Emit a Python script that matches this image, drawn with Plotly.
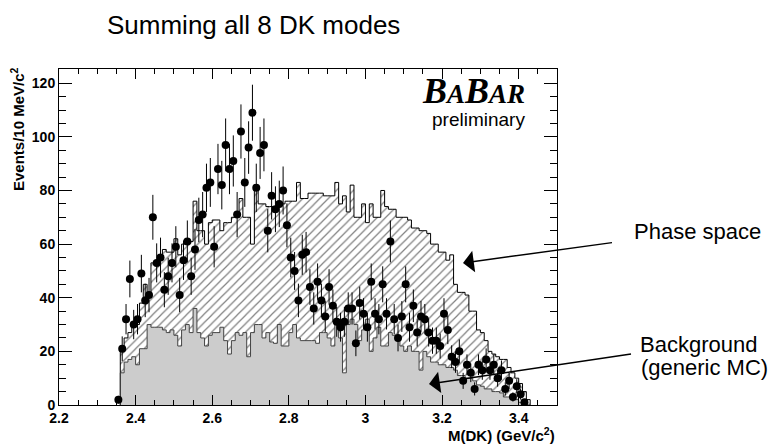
import numpy as np
import plotly.graph_objects as go

# ---------------- data ----------------
bin_width = 0.01
hist_start = 2.36     # first MC bin lower edge
data_start = 2.35     # first data bin lower edge

# stacked MC total (background + phase space), 10 MeV bins from 2.36
total_mc = [22, 25, 27, 29, 30, 38, 45, 42, 53, 52,
            54, 58, 57, 57, 62, 56, 60, 60, 61, 76,
            65, 65, 60, 68, 69, 69, 65, 68, 68, 70,
            70, 77, 70, 70, 60, 80, 75, 75, 74, 74,
            73, 75, 75, 76, 76, 76, 83, 77, 77, 79,
            79, 79, 79, 78, 78, 78, 83, 75, 78, 72,
            82, 70, 70, 75, 68, 75, 70, 70, 80, 74,
            73, 73, 70, 70, 70, 69, 66, 66, 65, 65,
            64, 60, 60, 57, 57, 54, 56, 45, 42, 42,
            41, 35, 35, 28, 27, 24, 20, 19, 18, 17,
            17, 14, 12, 10, 8, 5, 2]

# generic MC background, same binning
background = [12, 16, 17, 18, 15, 21, 21, 30, 29, 29,
              29, 28, 27, 28, 26, 22, 28, 30, 27, 36,
              27, 25, 22, 26, 27, 27, 29, 24, 19, 24,
              27, 26, 27, 18, 27, 30, 30, 25, 27, 23.5,
              23, 30, 22, 22, 27, 30, 25, 24, 24, 24,
              24, 23, 27, 27, 25, 22, 32, 25, 12, 30,
              32, 30, 24, 28, 32, 20, 25, 29, 22, 22,
              27, 26, 24, 22, 20, 22, 20, 20, 13, 20,
              18, 16, 16, 15, 15, 14, 14, 13, 11, 11,
              10, 10, 9, 7.5, 7, 6, 6, 5, 5, 4.5,
              3, 3, 2, 2, 1, 1, 0]

# data counts, 10 MeV bins from 2.35
data_counts = [2, 21, 32, 47, 30, 32, 49, 39, 41, 70,
               53, 55, 43, 48, 53, 59, 41, 54, 61, 48,
               58, 69, 71, 81, 83, 59, 88, 82, 97, 88,
               91, 71, 102, 83, 96, 109, 81, 94, 97, 65,
               78, 73, 75, 80, 67, 55, 50, 39, 56, 57,
               44, 36, 46, 39, 33, 44, 37, 31, 29, 31,
               36, 36, 23, 38, 34, 29, 46, 34, 32, 45,
               34, 61, 32, 25, 33, 45, 29, 37, 27, 33,
               32, 27, 24, 24, 22, 34, 28, 18, 16, 20,
               9, 15, 12, 6, 15, 13, 17, 13, 15, 10,
               13, 6, 9, 3, 7, 4, 1]

x_tickvals = [2.2, 2.4, 2.6, 2.8, 3.0, 3.2, 3.4]
x_ticktext = ["2.2", "2.4", "2.6", "2.8", "3", "3.2", "3.4"]
y_tickvals = [0, 20, 40, 60, 80, 100, 120]
y_ticktext = ["0", "20", "40", "60", "80", "100", "120"]

# ---------------- derived ----------------
n_mc = len(total_mc)
mc_edges = hist_start + bin_width * np.arange(n_mc + 1)
mc_centers = mc_edges[:-1] + bin_width / 2
data_centers = data_start + bin_width * (np.arange(len(data_counts)) + 0.5)
data_err = np.sqrt(np.array(data_counts, dtype=float))


def step_outline(edges, vals):
    xs = [edges[0]] + list(edges[:-1]) + [edges[-1], edges[-1]]
    ys = [0] + list(vals) + [vals[-1], 0]
    return xs, ys


fig = go.Figure()

# hatched (phase space on top of background)
fig.add_trace(go.Bar(
    x=mc_centers, y=total_mc, width=bin_width,
    marker=dict(color="white",
                pattern=dict(shape="/", fgcolor="black", bgcolor="white",
                             size=6, solidity=0.2),
                line=dict(width=0)),
    hoverinfo="skip"))

# gray background
fig.add_trace(go.Bar(
    x=mc_centers, y=background, width=bin_width,
    marker=dict(color="#cccccc", line=dict(width=0)),
    hoverinfo="skip"))

xs, ys = step_outline(mc_edges, total_mc)
fig.add_trace(go.Scatter(x=xs, y=ys, mode="lines", line_shape="hv",
                         line=dict(color="black", width=1), hoverinfo="skip"))
xs, ys = step_outline(mc_edges, background)
fig.add_trace(go.Scatter(x=xs, y=ys, mode="lines", line_shape="hv",
                         line=dict(color="#444444", width=1), hoverinfo="skip"))

# data points
fig.add_trace(go.Scatter(
    x=data_centers, y=data_counts, mode="markers",
    marker=dict(color="black", size=8, symbol="circle"),
    error_y=dict(type="data", array=data_err, color="black",
                 thickness=1, width=0),
    hoverinfo="skip"))

W, H = 778, 447
L, R, T, B = 59, 557, 69, 405


def px(p):
    return (p - L) / (R - L)


def py(p):
    return (B - p) / (B - T)


font_main = "Liberation Sans, Arial, sans-serif"

fig.update_layout(
    width=W, height=H,
    margin=dict(l=L, r=W - R, t=T, b=H - B, pad=0),
    paper_bgcolor="white", plot_bgcolor="white",
    showlegend=False, barmode="overlay", bargap=0,
    xaxis=dict(range=[2.2, 3.5], tickvals=x_tickvals, ticktext=x_ticktext,
               ticks="inside", ticklen=10, tickwidth=1, tickcolor="black",
               showline=True, linecolor="black", linewidth=1, mirror="ticks",
               showgrid=False, zeroline=False,
               minor=dict(tick0=2.2, dtick=0.05, ticks="inside", ticklen=5,
                          tickwidth=1, tickcolor="black", showgrid=False),
               tickfont=dict(family=font_main, size=14, color="black",
                             weight="bold")),
    yaxis=dict(range=[0, 125.3], tickvals=y_tickvals, ticktext=y_ticktext,
               ticks="inside", ticklen=13, tickwidth=1, tickcolor="black",
               showline=True, linecolor="black", linewidth=1, mirror="ticks",
               showgrid=False, zeroline=False,
               minor=dict(tick0=0, dtick=5, ticks="inside", ticklen=7,
                          tickwidth=1, tickcolor="black", showgrid=False),
               tickfont=dict(family=font_main, size=14, color="black",
                             weight="bold")),
)

ann = []
# title
ann.append(dict(text="Summing all 8 DK modes", xref="paper", yref="paper",
                x=px(253), y=py(25), xanchor="center", yanchor="middle",
                showarrow=False,
                font=dict(family=font_main, size=26, color="black")))
# axis titles
ann.append(dict(text="<b>M(DK) (GeV/c<sup>2</sup>)</b>", xref="paper",
                yref="paper", x=px(557), y=py(435), xanchor="right",
                yanchor="middle", showarrow=False,
                font=dict(family=font_main, size=15, color="black")))
ann.append(dict(text="<b>Events/10 MeV/c<sup>2</sup></b>", xref="paper",
                yref="paper", x=px(17), y=py(65), xanchor="center",
                yanchor="top", textangle=-90, showarrow=False,
                font=dict(family=font_main, size=15, color="black")))
# BaBar logo
ann.append(dict(text="<b><i>B<span style='font-size:27px'>A</span>B"
                     "<span style='font-size:27px'>AR</span></i></b>",
                xref="paper", yref="paper", x=px(527), y=py(91),
                xanchor="right", yanchor="middle", showarrow=False,
                font=dict(family="Liberation Serif, Times New Roman, serif",
                          size=36, color="black")))
ann.append(dict(text="preliminary", xref="paper", yref="paper",
                x=px(527), y=py(119), xanchor="right", yanchor="middle",
                showarrow=False,
                font=dict(family=font_main, size=19, color="black")))

# side labels with arrows attached (arrow starts at padded text box edge)
ps_tip = (463, 263)
ps_center = (697, 231)
ann.append(dict(text="Phase space", xref="paper", yref="paper",
                x=px(ps_tip[0]), y=py(ps_tip[1]),
                ax=ps_center[0] - ps_tip[0], ay=ps_center[1] - ps_tip[1],
                axref="pixel", ayref="pixel", xanchor="center",
                yanchor="middle", borderpad=21,
                showarrow=True, arrowhead=1, arrowsize=2.4, arrowwidth=1.5,
                arrowcolor="black",
                font=dict(family=font_main, size=22, color="black")))
bg_tip = (429, 384)
bg_center = (698, 344)
ann.append(dict(text="Background", xref="paper", yref="paper",
                x=px(bg_tip[0]), y=py(bg_tip[1]),
                ax=bg_center[0] - bg_tip[0], ay=bg_center[1] - bg_tip[1],
                axref="pixel", ayref="pixel", xanchor="center",
                yanchor="middle", borderpad=8,
                showarrow=True, arrowhead=1, arrowsize=2.4, arrowwidth=1.5,
                arrowcolor="black",
                font=dict(family=font_main, size=22, color="black")))
ann.append(dict(text="(generic MC)", xref="paper", yref="paper",
                x=px(639), y=py(367), xanchor="left", yanchor="middle",
                showarrow=False,
                font=dict(family=font_main, size=22, color="black")))
fig.update_layout(annotations=ann)

fig.write_html("out.html")
